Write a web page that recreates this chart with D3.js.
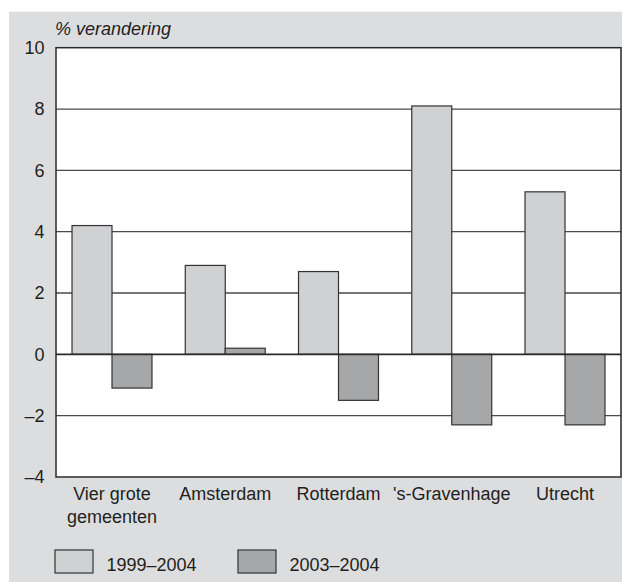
<!DOCTYPE html>
<html>
<head>
<meta charset="utf-8">
<script src="https://cdn.jsdelivr.net/npm/d3@7"></script>
<style>
  body { margin: 0; background: #fff; }
  svg text { font-family: "Liberation Sans", Arial, sans-serif; fill: #231f20; }
</style>
</head>
<body>
<svg width="622" height="582"></svg>
<script>
    // data
    const categories = ["Vier grote gemeenten", "Amsterdam", "Rotterdam", "'s-Gravenhage", "Utrecht"];
    const categoryLines = [["Vier grote", "gemeenten"], ["Amsterdam"], ["Rotterdam"], ["'s-Gravenhage"], ["Utrecht"]];
    const seriesNames = ["1999–2004", "2003–2004"];
    const values1999 = [4.2, 2.9, 2.7, 8.1, 5.3];
    const values2003 = [-1.1, 0.2, -1.5, -2.3, -2.3];
    const yTicks = [10, 8, 6, 4, 2, 0, -2, -4];
    const colors = ["#d0d1d3", "#a6a7a9"];

    const svg = d3.select("svg"),
          margin = {top: 47.7, right: 1, bottom: 105, left: 56},
          W = +svg.attr("width"),
          H = +svg.attr("height"),
          width = W - margin.left - margin.right,
          height = H - margin.top - margin.bottom;

    // grey panel behind everything
    svg.append("rect")
      .attr("x", 9).attr("y", 11.7)
      .attr("width", W - 9).attr("height", H - 11.7)
      .attr("fill", "#dcdddf");

    const g = svg.append("g").attr("transform", `translate(${margin.left},${margin.top})`);

    const x0 = d3.scaleBand()
      .domain(categories)
      .range([0, width])
      .paddingInner(0.294)
      .paddingOuter(0.1415)
      .align(0.5);

    const x1 = d3.scaleBand()
      .domain(seriesNames)
      .range([0, x0.bandwidth()]);

    const y = d3.scaleLinear()
      .domain([-4, 10])
      .range([height, 0]);

    // plot area
    g.append("rect")
      .attr("width", width).attr("height", height)
      .attr("fill", "#fff");

    // grid lines
    g.selectAll(".grid")
      .data(yTicks.filter(d => d !== 0 && d !== 10 && d !== -4))
      .enter().append("line")
      .attr("class", "grid")
      .attr("x1", 0).attr("x2", width)
      .attr("y1", d => y(d)).attr("y2", d => y(d))
      .attr("stroke", "#4a4a4a")
      .attr("stroke-width", 1.3);

    // bars
    const rows = categories.map((c, i) => ({cat: c, vals: [values1999[i], values2003[i]]}));

    const groups = g.selectAll(".grp")
      .data(rows)
      .enter().append("g")
      .attr("class", "grp")
      .attr("transform", d => `translate(${x0(d.cat)},0)`);

    groups.selectAll("rect")
      .data(d => d.vals.map((v, j) => ({series: seriesNames[j], v: v, j: j})))
      .enter().append("rect")
      .attr("x", d => x1(d.series))
      .attr("y", d => y(Math.max(0, d.v)))
      .attr("width", x1.bandwidth())
      .attr("height", d => Math.abs(y(d.v) - y(0)))
      .attr("fill", d => colors[d.j])
      .attr("stroke", "#333")
      .attr("stroke-width", 1.2);

    // zero line
    g.append("line")
      .attr("x1", 0).attr("x2", width)
      .attr("y1", y(0)).attr("y2", y(0))
      .attr("stroke", "#2b2b2b")
      .attr("stroke-width", 1.6);

    // frame
    g.append("rect")
      .attr("width", width).attr("height", height)
      .attr("fill", "none")
      .attr("stroke", "#2b2b2b")
      .attr("stroke-width", 1.5);

    // y axis labels
    const yAxis = g.append("g")
      .call(d3.axisLeft(y)
        .tickValues(yTicks)
        .tickSize(0)
        .tickPadding(11.5)
        .tickFormat(d => d < 0 ? "–" + Math.abs(d) : String(d)));
    yAxis.select(".domain").remove();
    yAxis.selectAll("text")
      .attr("fill", "#231f20")
      .style("font-size", "18px")
      .style("font-family", "'Liberation Sans', Arial, sans-serif");

    // unit label
    g.append("text")
      .attr("x", -1)
      .attr("y", -12.5)
      .style("font-size", "18px")
      .style("font-style", "italic")
      .text("% verandering");

    // category labels
    const catLabels = g.selectAll(".cat")
      .data(categories)
      .enter().append("text")
      .attr("class", "cat")
      .attr("x", d => x0(d) + x0.bandwidth() / 2)
      .attr("y", height + 23)
      .attr("text-anchor", "middle")
      .style("font-size", "18px");

    catLabels.selectAll("tspan")
      .data((d, i) => categoryLines[i])
      .enter().append("tspan")
      .attr("x", function() { return this.parentNode.getAttribute("x"); })
      .attr("dy", (d, i) => i === 0 ? 0 : 23)
      .text(d => d);

    // legend
    const legendX = [55, 238];
    const legend = svg.selectAll(".leg")
      .data(seriesNames)
      .enter().append("g")
      .attr("class", "leg")
      .attr("transform", (d, i) => `translate(${legendX[i]},550)`);

    legend.append("rect")
      .attr("width", 38).attr("height", 23)
      .attr("fill", (d, i) => colors[i])
      .attr("stroke", "#333")
      .attr("stroke-width", 1.2);

    legend.append("text")
      .attr("x", 51.5)
      .attr("y", 21)
      .style("font-size", "18px")
      .text(d => d);
</script>
</body>
</html>
